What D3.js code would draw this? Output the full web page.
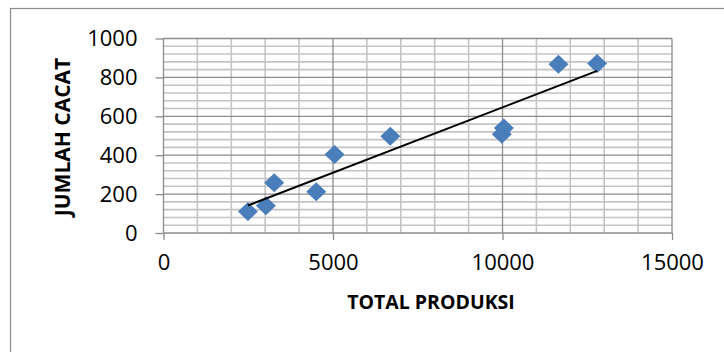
<!DOCTYPE html>
<html>
<head>
<meta charset="utf-8">
<script src="https://cdn.jsdelivr.net/npm/d3@7"></script>
<style>
  html, body { margin: 0; padding: 0; background: #fff; }
  svg { display: block; font-family: "Open Sans", "Lato", sans-serif; }
</style>
</head>
<body>
<svg id="chart" width="724" height="352"></svg>
<script>
// Total produksi vs jumlah cacat
const totalProduksi = [2490, 3020, 3265, 4505, 5045, 6690, 9980, 10040, 11650, 12790];
const jumlahCacat   = [110, 140, 258, 212, 404, 498, 508, 540, 867, 871];

const xTickValues = [0, 5000, 10000, 15000];
const yTickValues = [0, 200, 400, 600, 800, 1000];
const xMinorStep = 1000;
const yMinorStep = 40;

const xTitle = "TOTAL PRODUKSI";
const yTitle = "JUMLAH CACAT";

const svg = d3.select("#chart");
const W = 724, H = 352;

const plot = { left: 163.5, right: 672, top: 38.5, bottom: 233 };

const x = d3.scaleLinear().domain([0, 15000]).range([plot.left, plot.right]);
const y = d3.scaleLinear().domain([0, 1000]).range([plot.bottom, plot.top]);

// chart frame
svg.append("rect")
  .attr("x", 10.5).attr("y", 8.5)
  .attr("width", W + 20).attr("height", H + 20)
  .attr("fill", "#fff").attr("stroke", "#8c8c8c").attr("stroke-width", 1.2);

// minor gridlines
const xMinor = d3.range(0, 15000 + 1, xMinorStep).filter(v => v % 5000 !== 0);
const yMinor = d3.range(0, 1000 + 1, yMinorStep).filter(v => v % 200 !== 0);

const grid = svg.append("g");
grid.selectAll("line.xm").data(xMinor).join("line")
  .attr("x1", d => x(d)).attr("x2", d => x(d))
  .attr("y1", plot.top).attr("y2", plot.bottom)
  .attr("stroke", "#c4c4c4").attr("stroke-width", 1.6);
grid.selectAll("line.ym").data(yMinor).join("line")
  .attr("x1", plot.left).attr("x2", plot.right)
  .attr("y1", d => y(d)).attr("y2", d => y(d))
  .attr("stroke", "#c4c4c4").attr("stroke-width", 1.6);

// major gridlines
grid.selectAll("line.xM").data(xTickValues.filter(v => v > 0)).join("line")
  .attr("x1", d => x(d)).attr("x2", d => x(d))
  .attr("y1", plot.top).attr("y2", plot.bottom)
  .attr("stroke", "#8c8c8c").attr("stroke-width", 1.3);
grid.selectAll("line.yM").data(yTickValues.filter(v => v > 0)).join("line")
  .attr("x1", plot.left).attr("x2", plot.right)
  .attr("y1", d => y(d)).attr("y2", d => y(d))
  .attr("stroke", "#8c8c8c").attr("stroke-width", 1.3);

// axes
const xAxis = d3.axisBottom(x).tickValues(xTickValues).tickSize(7).tickPadding(14).tickFormat(d3.format("d"));
const yAxis = d3.axisLeft(y).tickValues(yTickValues).tickSize(8).tickPadding(18).tickFormat(d3.format("d"));

const gx = svg.append("g").attr("transform", `translate(0,${plot.bottom})`).call(xAxis);
const gy = svg.append("g").attr("transform", `translate(${plot.left},0)`).call(yAxis);

[gx, gy].forEach(g => {
  g.select(".domain").attr("stroke", "#8c8c8c").attr("stroke-width", 1.3);
  g.selectAll(".tick line").attr("stroke", "#8c8c8c").attr("stroke-width", 1.3);
  g.selectAll(".tick text")
    .attr("fill", "#000")
    .style("font-size", "22px")
    .style("font-family", "'Open Sans', sans-serif");
});
gy.select(".domain").attr("d", `M0,${plot.bottom}V${plot.top}`);
gx.select(".domain").attr("d", `M${plot.left},0H${plot.right}`);

// axis titles
svg.append("text")
  .attr("x", 431).attr("y", 309)
  .attr("text-anchor", "middle")
  .style("font-size", "19.5px").style("font-weight", "bold")
  .text(xTitle);

svg.append("text")
  .attr("transform", `translate(70,137) rotate(-90)`)
  .attr("text-anchor", "middle")
  .style("font-size", "21px").style("font-weight", "bold")
  .text(yTitle);

// linear trend line (least squares)
const n = totalProduksi.length;
const mx = d3.mean(totalProduksi), my = d3.mean(jumlahCacat);
let sxy = 0, sxx = 0;
for (let i = 0; i < n; i++) {
  sxy += (totalProduksi[i] - mx) * (jumlahCacat[i] - my);
  sxx += (totalProduksi[i] - mx) ** 2;
}
const slope = sxy / sxx, intercept = my - slope * mx;
const x0 = d3.min(totalProduksi), x1 = d3.max(totalProduksi);

// markers
const pts = totalProduksi.map((v, i) => ({ px: v, py: jumlahCacat[i] }));
svg.append("g").selectAll("path").data(pts).join("path")
  .attr("transform", d => `translate(${x(d.px)},${y(d.py)})`)
  .attr("d", "M0,-9.5L10,0L0,9.5L-10,0Z")
  .attr("fill", "#4a7ebb");

svg.append("line")
  .attr("x1", x(x0)).attr("y1", y(slope * x0 + intercept))
  .attr("x2", x(x1)).attr("y2", y(slope * x1 + intercept))
  .attr("stroke", "#000").attr("stroke-width", 2);
</script>
</body>
</html>
